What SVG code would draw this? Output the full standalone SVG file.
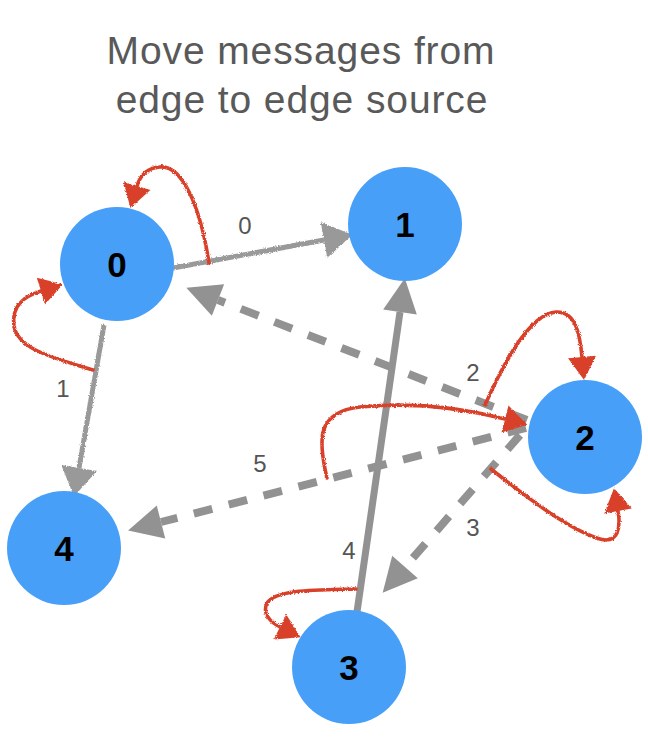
<svg xmlns="http://www.w3.org/2000/svg" width="648" height="742" viewBox="0 0 648 742">
<style>
.title{font-family:"Liberation Sans",Arial,sans-serif;font-size:39px;fill:#595959;text-anchor:middle;letter-spacing:0.9px}
.node circle{fill:#479ff8}
.node text{font-family:"Liberation Sans",Arial,sans-serif;font-size:35px;font-weight:bold;fill:#000;text-anchor:middle}
.lbl{font-family:"Liberation Sans",Arial,sans-serif;font-size:24px;fill:#555;text-anchor:middle}
.dash{fill:none;stroke:#929292;stroke-width:8;stroke-dasharray:19 17}
.solid{fill:none;stroke:#929292;stroke-width:7}
.sketch{fill:none;stroke:#999;stroke-width:5}
.red{fill:none;stroke:#d9412a;stroke-width:3.6;stroke-linecap:round}
</style>
<defs>
<marker id="ah" viewBox="0 -20 40 40" refX="0" refY="0" markerWidth="40" markerHeight="40" markerUnits="userSpaceOnUse" orient="auto" overflow="visible">
<path d="M0,-17 L34,0 L0,17 z" fill="#929292"/>
</marker>
<marker id="ahs" viewBox="0 -20 40 40" refX="0" refY="0" markerWidth="40" markerHeight="40" markerUnits="userSpaceOnUse" orient="auto" overflow="visible">
<path d="M0,-18 L29,0 L0,18 z" fill="#999"/>
</marker>
<marker id="ahr" viewBox="0 -20 40 40" refX="0" refY="0" markerWidth="40" markerHeight="40" markerUnits="userSpaceOnUse" orient="auto" overflow="visible">
<path d="M0,-14 L23,0 L0,14 z" fill="#d9412a"/>
</marker>
<filter id="rough" filterUnits="userSpaceOnUse" x="0" y="0" width="648" height="742">
<feTurbulence type="fractalNoise" baseFrequency="0.9" numOctaves="2" seed="3" result="n"/>
<feDisplacementMap in="SourceGraphic" in2="n" scale="3" xChannelSelector="R" yChannelSelector="G"/>
</filter>
</defs>
<rect width="648" height="742" fill="#fff"/>
<text class="title" x="301" y="64">Move messages from</text>
<text class="title" x="302" y="113">edge to edge source</text>

<g id="connectors">
<path class="dash" d="M527,420 L218,300" marker-end="url(#ah)"/>
<path class="dash" d="M526,428 L161,522" marker-end="url(#ah)"/>
<path class="dash" d="M520,435 L405,567" marker-end="url(#ah)"/>
<path class="solid" d="M357,612 L400,312" marker-end="url(#ah)"/>
<g filter="url(#rough)">
<path class="sketch" d="M173,268 L324,240" marker-end="url(#ahs)"/>
<path class="sketch" d="M104,325 L79,468" marker-end="url(#ahs)"/>
</g>
<g filter="url(#rough)">
<path class="red" d="M209,263 C200,205 182,165 160,167 C146,168 140,176 137,186" marker-end="url(#ahr)"/>
<path class="red" d="M93,370 C55,358 18,350 14,326 C11,305 25,296 41,291" marker-end="url(#ahr)"/>
<path class="red" d="M485,405 C505,360 530,314 556,312 C576,311 580,335 582,357" marker-end="url(#ahr)"/>
<path class="red" d="M327,478 C318,440 316,412 360,407 C420,401 470,410 505,419" marker-end="url(#ahr)"/>
<path class="red" d="M491,469 C530,500 570,530 600,539 C618,544 621,528 618,511" marker-end="url(#ahr)"/>
<path class="red" d="M356,589 C320,590 276,589 267,603 C262,613 270,622 280,627" marker-end="url(#ahr)"/>
</g>
<text class="lbl" x="245" y="234">0</text>
<text class="lbl" x="63" y="397">1</text>
<text class="lbl" x="473" y="381">2</text>
<text class="lbl" x="473" y="536">3</text>
<text class="lbl" x="349" y="559">4</text>
<text class="lbl" x="260" y="472">5</text>
</g>

<g id="node0" class="node"><circle cx="117" cy="264" r="57"/><text x="117" y="277">0</text></g>
<g id="node1" class="node"><circle cx="405" cy="224" r="57"/><text x="405" y="237">1</text></g>
<g id="node2" class="node"><circle cx="585" cy="437" r="57"/><text x="585" y="450">2</text></g>
<g id="node3" class="node"><circle cx="349" cy="667" r="57"/><text x="349" y="680">3</text></g>
<g id="node4" class="node"><circle cx="64" cy="548" r="57"/><text x="64" y="561">4</text></g>
</svg>
